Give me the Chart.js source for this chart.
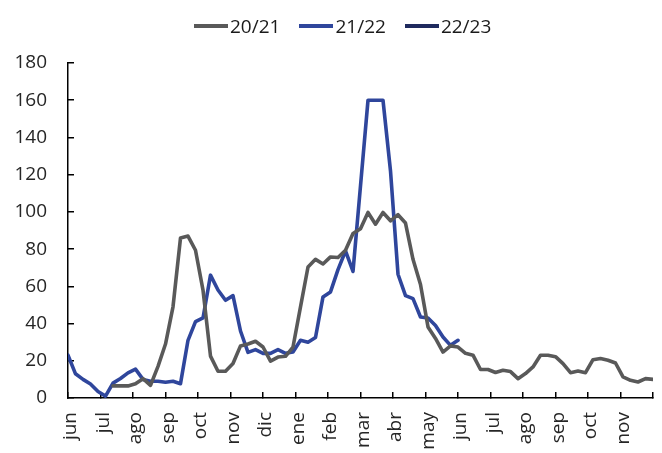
<!doctype html>
<html lang="es">
<head>
<meta charset="UTF-8">
<title>20/21 - 21/22 - 22/23</title>
<script src="https://cdn.jsdelivr.net/npm/chart.js@4.4.1/dist/chart.umd.min.js"></script>
<style>
  html, body { margin: 0; padding: 0; background: #fff; }
  #wrap { width: 662px; height: 453px; position: relative; }
  #legend { position: absolute; left: 194px; top: 14px; display: flex; align-items: center;
            font-family: 'Open Sans', sans-serif; font-size: 19px; line-height: 24px; color: #1a1a1a; }
  #legend .item { display: flex; align-items: center; margin-right: 19px; }
  #legend .swatch { width: 34px; height: 4px; margin-right: 2px; }
</style>
</head>
<body>
<div id="wrap"><canvas id="chart"></canvas><div id="legend"></div></div>
<script>
// month labels on the x axis (one per month, weekly data in between)
var months = ['jun', 'jul', 'ago', 'sep', 'oct', 'nov', 'dic', 'ene', 'feb', 'mar', 'abr', 'may',
              'jun', 'jul', 'ago', 'sep', 'oct', 'nov'];
var yMin = 0, yMax = 180, yStep = 20;

// weekly values, first value sits at week "start" counted from the first jun
var s2021Start = 6;
var s2021 = [6.5, 6.5, 6.5, 7.7, 10.4, 6.8, 17, 29, 49, 86, 87, 79.4, 58, 22.5, 14.4, 14.4,
             18.5, 28, 29, 30.5, 27.4, 19.8, 22, 22.4, 27.4, 49, 70.4, 74.5, 72, 75.8, 75.5,
             79.4, 88.4, 91, 99.7, 93.4, 99.7, 95.2, 98.5, 94, 74.5, 61, 38.2, 32, 24.7, 28,
             27.4, 24, 23, 15.3, 15.3, 13.7, 14.9, 14.2, 10.4, 13.1, 16.7, 23, 23, 22.2, 18.5,
             13.6, 14.5, 13.6, 20.6, 21.2, 20.3, 18.8, 11.3, 9.5, 8.6, 10.4, 10];

var s2122Start = 0;
var s2122 = [23, 13, 10, 7.5, 3.5, 1, 8, 10.5, 13.5, 15.5, 10, 9, 9, 8.5, 9, 7.7, 31, 41, 43,
             66, 58, 52.5, 55, 36, 24.5, 26, 24, 24, 26, 24, 24.7, 31, 30, 32.5, 54.3, 57, 69,
             79, 68, 114, 160, 160, 160, 122, 66.5, 55, 53.4, 43.5, 43, 39, 32.8, 28.3, 31];

var s2223Start = 0;
var s2223 = [];

var weeksPerMonth = 52 / 12;

function toPoints(values, start) {
  return values.map(function (v, i) {
    return { x: (start + i) / weeksPerMonth, y: v };
  });
}

var tickFont = { family: 'Open Sans', size: 19 };

// legend as html, built from the chart's own legend items
var htmlLegend = {
  id: 'htmlLegend',
  afterUpdate: function (chart) {
    var box = document.getElementById('legend');
    box.innerHTML = '';
    var items = chart.options.plugins.legend.labels.generateLabels(chart);
    items.forEach(function (item) {
      var el = document.createElement('span');
      el.className = 'item';
      var sw = document.createElement('span');
      sw.className = 'swatch';
      sw.style.background = item.strokeStyle;
      var tx = document.createElement('span');
      tx.textContent = item.text;
      el.appendChild(sw);
      el.appendChild(tx);
      box.appendChild(el);
    });
  }
};

new Chart(document.getElementById('chart'), {
  type: 'line',
  data: {
    datasets: [
      { label: '20/21', data: toPoints(s2021, s2021Start), borderColor: '#595959', backgroundColor: '#595959' },
      { label: '21/22', data: toPoints(s2122, s2122Start), borderColor: '#2f469c', backgroundColor: '#2f469c' },
      { label: '22/23', data: toPoints(s2223, s2223Start), borderColor: '#1f2a5e', backgroundColor: '#1f2a5e' }
    ]
  },
  plugins: [htmlLegend],
  options: {
    responsive: true,
    maintainAspectRatio: false,
    animation: false,
    layout: { padding: 0 },
    elements: {
      point: { radius: 0 },
      line: { borderWidth: 3.6, tension: 0, borderJoinStyle: 'round', borderCapStyle: 'round' }
    },
    plugins: {
      legend: { display: false },
      tooltip: { enabled: false }
    },
    scales: {
      x: {
        type: 'linear',
        min: 0,
        max: months.length,
        afterFit: function (scale) {
          scale.height = 55;
          scale.paddingLeft = 0;
          scale.paddingRight = 9;
        },
        ticks: {
          stepSize: 1,
          autoSkip: false,
          minRotation: 90,
          maxRotation: 90,
          padding: 20,
          labelOffset: 3,
          color: '#262626',
          font: tickFont,
          callback: function (v) { return months[Math.round(v)] || ''; }
        },
        grid: { drawOnChartArea: false, tickLength: -6, color: '#000', lineWidth: 1.5 },
        border: { color: '#000', width: 1.5 }
      },
      y: {
        min: yMin,
        max: yMax,
        afterFit: function (scale) {
          scale.width = 68;
          scale.paddingTop = 63;
          scale.paddingBottom = 0;
        },
        ticks: { stepSize: yStep, padding: 27, color: '#262626', font: tickFont },
        grid: { drawOnChartArea: false, tickLength: -6, color: '#000', lineWidth: 1.5 },
        border: { color: '#000', width: 1.5 }
      }
    }
  }
});
</script>
</body>
</html>
